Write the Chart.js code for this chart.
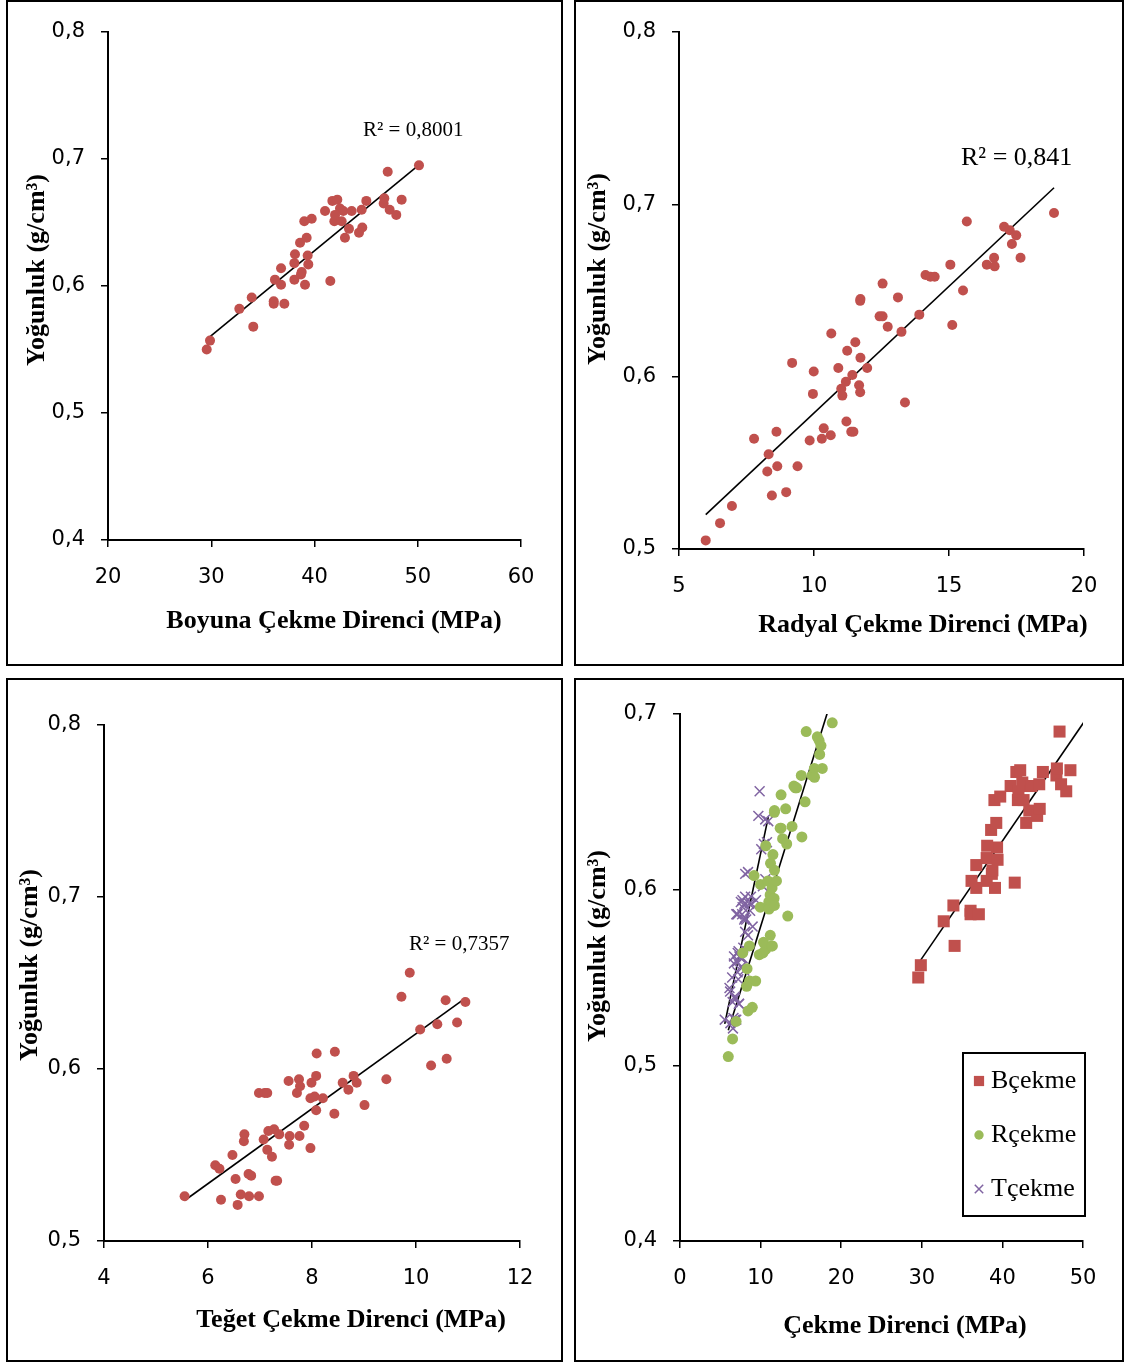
<!DOCTYPE html>
<html>
<head>
<meta charset="utf-8">
<script src="https://cdn.jsdelivr.net/npm/chart.js"></script>
<style>
    body { margin: 0; background: #fff; width: 1125px; height: 1362px; position: relative; overflow: hidden; }
    .panel { position: absolute; border: 2px solid #000; background: #fff; }
    canvas { display: block; }
</style>
</head>
<body>
<div class="panel" style="left:6px;top:0;width:553px;height:662px"><canvas id="boyuna" width="553" height="662"></canvas></div>
<div class="panel" style="left:574px;top:0;width:546px;height:662px"><canvas id="radyal" width="546" height="662"></canvas></div>
<div class="panel" style="left:6px;top:678px;width:553px;height:680px"><canvas id="teget" width="553" height="680"></canvas></div>
<div class="panel" style="left:574px;top:678px;width:546px;height:680px"><canvas id="hepsi" width="546" height="680"></canvas></div>
<script>
// values
const boyunaX = [29.56, 29.88, 34.07, 32.72, 33.92, 36.05, 36.05, 37.08, 36.76, 36.17, 36.76, 38.05, 39.08, 38.69, 38.76, 38.05,
    39.40, 39.34, 38.11, 38.60, 39.24, 39.01, 39.73, 41.53, 41.02, 41.73, 42.21, 41.92, 42.47, 42.79, 41.99, 43.60, 42.63,
    43.34, 42.95, 44.31, 44.63, 44.57, 45.02, 46.70, 46.76, 47.09, 47.28, 47.92, 48.44, 50.12];
const boyunaY = [0.550, 0.557, 0.568, 0.582, 0.591, 0.588, 0.586, 0.586, 0.601, 0.605, 0.614, 0.605, 0.601, 0.609, 0.611, 0.618,
    0.617, 0.624, 0.625, 0.634, 0.638, 0.651, 0.653, 0.604, 0.659, 0.667, 0.668, 0.651, 0.661, 0.659, 0.656, 0.659, 0.651,
    0.645, 0.638, 0.642, 0.646, 0.660, 0.667, 0.665, 0.669, 0.690, 0.660, 0.656, 0.668, 0.695];

const radyalX = [5.99, 6.52, 6.96, 7.78, 8.32, 8.61, 8.27, 8.64, 8.44, 8.97, 9.39, 9.19, 9.99, 9.96, 9.84, 10.29, 10.62, 10.36,
    10.64, 10.90, 11.01, 11.05, 11.18, 11.20, 11.38, 11.46, 11.23, 11.53, 11.42, 11.67, 11.71, 11.72, 11.97, 11.71, 11.72,
    12.54, 12.43, 12.54, 12.73, 13.11, 13.24, 13.37, 13.90, 14.13, 14.31, 14.47, 15.05, 15.12, 15.52, 15.66, 16.40, 16.67,
    16.69, 17.04, 17.25, 17.49, 17.33, 17.65, 18.89];
const radyalY = [0.505, 0.515, 0.525, 0.564, 0.555, 0.568, 0.545, 0.548, 0.531, 0.533, 0.548, 0.608, 0.603, 0.590, 0.563, 0.564,
    0.566, 0.570, 0.625, 0.605, 0.593, 0.589, 0.597, 0.574, 0.568, 0.568, 0.615, 0.620, 0.601, 0.595, 0.591, 0.611, 0.605,
    0.644, 0.645, 0.654, 0.635, 0.635, 0.629, 0.646, 0.626, 0.585, 0.636, 0.659, 0.658, 0.658, 0.665, 0.630, 0.650, 0.690,
    0.665, 0.669, 0.664, 0.687, 0.685, 0.682, 0.677, 0.669, 0.695];

const tegetX = [5.55, 6.14, 6.22, 6.25, 6.47, 6.53, 6.57, 6.63, 6.70, 6.69, 6.78, 6.83, 6.79, 6.98, 6.98, 7.09, 7.14, 7.07, 7.14,
    7.23, 7.16, 7.27, 7.37, 7.30, 7.33, 7.55, 7.57, 7.56, 7.75, 7.77, 7.71, 7.76, 7.85, 7.97, 7.99, 8.08, 7.97, 8.05, 8.09,
    8.08, 8.21, 8.44, 8.43, 8.59, 8.70, 8.80, 8.86, 9.01, 9.43, 9.72, 9.88, 10.08, 10.29, 10.41, 10.57, 10.59, 10.79, 10.95];
const tegetY = [0.526, 0.544, 0.542, 0.524, 0.550, 0.536, 0.521, 0.527, 0.562, 0.558, 0.539, 0.538, 0.526, 0.526, 0.586, 0.586,
    0.586, 0.559, 0.553, 0.549, 0.564, 0.565, 0.562, 0.535, 0.535, 0.593, 0.561, 0.556, 0.594, 0.590, 0.586, 0.561, 0.567,
    0.554, 0.592, 0.596, 0.583, 0.584, 0.609, 0.576, 0.583, 0.610, 0.574, 0.592, 0.588, 0.596, 0.592, 0.579, 0.594, 0.642,
    0.656, 0.623, 0.602, 0.626, 0.640, 0.606, 0.627, 0.639];

const r2Labels = ['R² = 0,8001', 'R² = 0,841', 'R² = 0,7357'];
const seriesNames = ['Bçekme', 'Rçekme', 'Tçekme'];
const xTitles = ['Boyuna Çekme Direnci (MPa)', 'Radyal Çekme Direnci (MPa)', 'Teğet Çekme Direnci (MPa)', 'Çekme Direnci (MPa)'];
const yTitle = 'Yoğunluk (g/cm³)';

const boyunaTicks = [20, 30, 40, 50, 60];
const radyalTicks = [5, 10, 15, 20];
const tegetTicks = [4, 6, 8, 10, 12];
const hepsiTicks = [0, 10, 20, 30, 40, 50];
const yTicksTop = [0.4, 0.5, 0.6, 0.7, 0.8];
const yTicksShort = [0.5, 0.6, 0.7, 0.8];
const yTicksAll = [0.4, 0.5, 0.6, 0.7];

const RED = '#C0504D';
const GREEN = '#9BBB59';
const PURPLE = '#8064A2';
const titleFont = 'bold 26px "Liberation Serif"';

function points(xs, ys) {
    return xs.map((x, i) => ({ x: x, y: ys[i] }));
}

// least squares line over the range of the data (Excel linear trendline)
function trend(xs, ys) {
    const n = xs.length;
    const mx = xs.reduce((a, b) => a + b) / n;
    const my = ys.reduce((a, b) => a + b) / n;
    let sxy = 0, sxx = 0;
    xs.forEach((x, i) => {
        sxy += (x - mx) * (ys[i] - my);
        sxx += (x - mx) * (x - mx);
    });
    const b = sxy / sxx;
    const a = my - b * mx;
    const x0 = Math.min(...xs), x1 = Math.max(...xs);
    return [{ x: x0, y: a + b * x0 }, { x: x1, y: a + b * x1 }];
}

function trendSet(xs, ys) {
    return {
        type: 'line', trend: true, data: trend(xs, ys),
        borderColor: '#000', borderWidth: 1.6, pointRadius: 0, fill: false
    };
}

// axis titles, R² labels and the boxed legend
const decor = {
    id: 'decor',
    afterDraw(chart, args, o) {
        const ctx = chart.ctx;
        ctx.save();
        (o.texts || []).forEach(t => {
            ctx.save();
            ctx.fillStyle = '#000';
            ctx.font = t.font;
            ctx.textAlign = t.align || 'center';
            ctx.textBaseline = 'middle';
            ctx.translate(t.x, t.y);
            if (t.rot) ctx.rotate(t.rot);
            ctx.fillText(t.text, 0, 0);
            ctx.restore();
        });
        if (o.legend) {
            const L = o.legend;
            ctx.strokeStyle = '#000';
            ctx.lineWidth = 2;
            ctx.strokeRect(L.box[0], L.box[1], L.box[2], L.box[3]);
            chart.data.datasets.filter(d => !d.trend).forEach((d, i) => {
                const y = L.y0 + i * L.step;
                ctx.fillStyle = d.backgroundColor;
                ctx.strokeStyle = d.borderColor;
                ctx.lineWidth = d.borderWidth;
                Chart.helpers.drawPoint(ctx, {
                    pointStyle: d.pointStyle, radius: d.pointRadius * 0.85,
                    borderWidth: d.borderWidth, rotation: 0
                }, L.x, y);
                ctx.fillStyle = '#000';
                ctx.font = L.font;
                ctx.textAlign = 'left';
                ctx.textBaseline = 'middle';
                ctx.fillText(d.label, L.textX, y);
            });
        }
        ctx.restore();
    }
};

function axis(ticks, fit, pad, extra) {
    return Object.assign({
        type: 'linear',
        min: ticks[0],
        max: ticks[ticks.length - 1],
        afterBuildTicks: s => { s.ticks = ticks.map(v => ({ value: v })); },
        afterFit: fit,
        border: { display: true, color: '#000', width: 2 },
        grid: { drawOnChartArea: false, drawTicks: true, tickLength: 7, color: '#000', lineWidth: 1.5 },
        ticks: {
            color: '#000',
            padding: pad,
            font: { family: 'DejaVu Sans', size: 21 },
            callback: v => String(v).replace('.', ',')
        }
    }, extra || {});
}

function makePanel(id, o) {
    const ctx = document.getElementById(id).getContext('2d');
    return new Chart(ctx, {
        type: 'scatter',
        data: { datasets: o.datasets },
        plugins: [decor],
        options: {
            responsive: false,
            animation: false,
            devicePixelRatio: 1,
            layout: { padding: { left: 0, top: o.top, right: o.right, bottom: 0 } },
            scales: {
                x: axis(o.xTicks, s => { s.height = o.xHeight; }, 18, { position: 'bottom' }),
                y: axis(o.yTicks, s => { s.width = o.yWidth; }, 16, { position: 'left' })
            },
            plugins: {
                legend: { display: false },
                tooltip: { enabled: false },
                decor: { texts: o.texts, legend: o.legend }
            }
        }
    });
}

function dots(xs, ys, label) {
    return {
        label: label, data: points(xs, ys),
        pointStyle: 'circle', pointRadius: 5, backgroundColor: RED, borderColor: RED, borderWidth: 0
    };
}

makePanel('boyuna', {
    xTicks: boyunaTicks, yTicks: yTicksTop,
    top: 30, right: 40, xHeight: 124, yWidth: 100,
    datasets: [dots(boyunaX, boyunaY, seriesNames[0]), trendSet(boyunaX, boyunaY)],
    texts: [
        { text: xTitles[0], x: 326, y: 619, font: titleFont },
        { text: yTitle, x: 29, y: 268, font: titleFont, rot: -Math.PI / 2 },
        { text: r2Labels[0], x: 355, y: 128, font: '21px "Liberation Serif"', align: 'left' }
    ]
});

makePanel('radyal', {
    xTicks: radyalTicks, yTicks: yTicksShort,
    top: 30, right: 38, xHeight: 115, yWidth: 103,
    datasets: [dots(radyalX, radyalY, seriesNames[1]), trendSet(radyalX, radyalY)],
    texts: [
        { text: xTitles[1], x: 347, y: 623, font: titleFont },
        { text: yTitle, x: 22, y: 267, font: titleFont, rot: -Math.PI / 2 },
        { text: r2Labels[1], x: 385, y: 156, font: '26px "Liberation Serif"', align: 'left' }
    ]
});

makePanel('teget', {
    xTicks: tegetTicks, yTicks: yTicksShort,
    top: 45, right: 41, xHeight: 119, yWidth: 96,
    datasets: [dots(tegetX, tegetY, seriesNames[2]), trendSet(tegetX, tegetY)],
    texts: [
        { text: xTitles[2], x: 343, y: 640, font: titleFont },
        { text: yTitle, x: 22, y: 285, font: titleFont, rot: -Math.PI / 2 },
        { text: r2Labels[2], x: 401, y: 264, font: '21px "Liberation Serif"', align: 'left' }
    ]
});

// Excel leaves out markers that fall past the axis maximum
const hepsiMax = hepsiTicks[hepsiTicks.length - 1];

makePanel('hepsi', {
    xTicks: hepsiTicks, yTicks: yTicksAll,
    top: 34, right: 39, xHeight: 119, yWidth: 104,
    datasets: [
        { label: seriesNames[0], data: points(boyunaX, boyunaY).filter(p => p.x <= hepsiMax), pointStyle: 'rect', pointRadius: 8.5,
          backgroundColor: RED, borderColor: RED, borderWidth: 0 },
        { label: seriesNames[1], data: points(radyalX, radyalY), pointStyle: 'circle', pointRadius: 5.5,
          backgroundColor: GREEN, borderColor: GREEN, borderWidth: 0 },
        { label: seriesNames[2], data: points(tegetX, tegetY), pointStyle: 'crossRot', pointRadius: 7,
          backgroundColor: PURPLE, borderColor: PURPLE, borderWidth: 1.5 },
        trendSet(boyunaX, boyunaY),
        trendSet(radyalX, radyalY),
        trendSet(tegetX, tegetY)
    ],
    texts: [
        { text: xTitles[3], x: 329, y: 646, font: titleFont },
        { text: yTitle, x: 22, y: 266, font: titleFont, rot: -Math.PI / 2 }
    ],
    legend: { box: [387, 373, 122, 163], x: 403, textX: 415, y0: 401, step: 54, font: '26px "Liberation Serif"' }
});
</script>
</body>
</html>
